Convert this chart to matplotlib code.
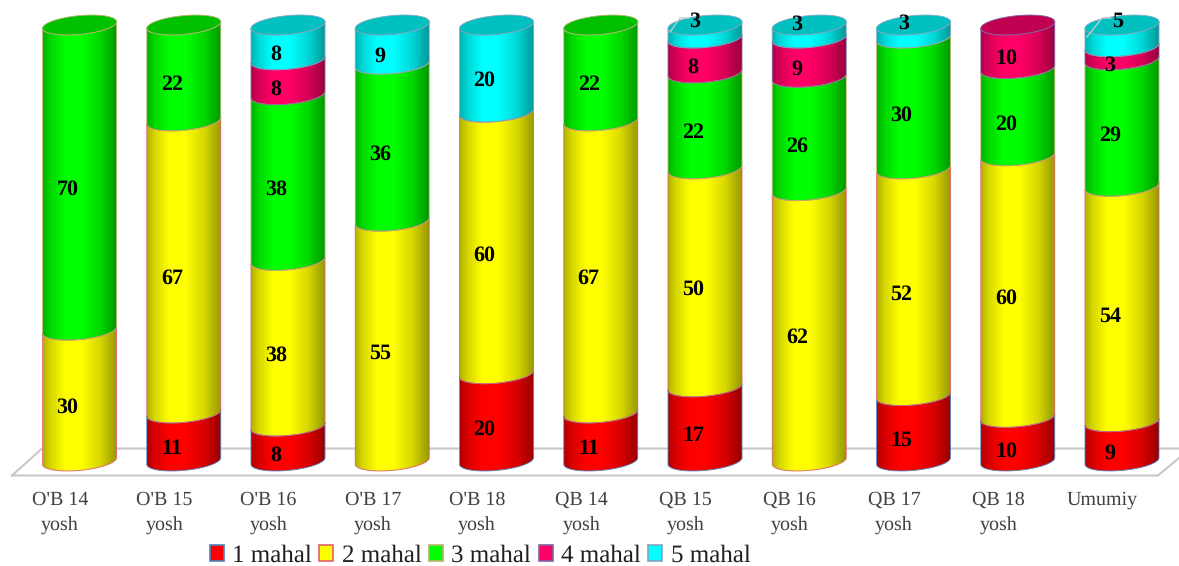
import numpy as np
import matplotlib
matplotlib.use("Agg")
import matplotlib.pyplot as plt
from matplotlib.patches import PathPatch, Patch
from matplotlib.path import Path

groups = ["O'B 14\nyosh", "O'B 15\nyosh", "O'B 16\nyosh", "O'B 17\nyosh", "O'B 18\nyosh",
          "QB 14\nyosh", "QB 15\nyosh", "QB 16\nyosh", "QB 17\nyosh", "QB 18\nyosh", "Umumiy"]
mahal_1 = [0, 11, 8, 0, 20, 11, 17, 0, 15, 10, 9]
mahal_2 = [30, 67, 38, 55, 60, 67, 50, 62, 52, 60, 54]
mahal_3 = [70, 22, 38, 36, 0, 22, 22, 26, 30, 20, 29]
mahal_4 = [0, 0, 8, 0, 0, 0, 8, 9, 0, 10, 3]
mahal_5 = [0, 0, 8, 9, 20, 0, 3, 3, 3, 0, 5]
series_names = ["1 mahal", "2 mahal", "3 mahal", "4 mahal", "5 mahal"]

colors = ["#ff0000", "#ffff00", "#00ff00", "#ff0066", "#00ffff"]
cap_colors = ["#c00000", "#c0c000", "#00c000", "#c00050", "#00c0c0"]
edge_colors = ["#4f81bd", "#e0606a", "#b5b56e", "#8064a2", "#7fa6c0"]

W, H = 1179, 566
X0, STEP = 79.5, 104.25     # pixel centre of first cylinder, spacing
Y0, PX_PER_UNIT = 461, 4.36  # pixel of value 0, pixels per percent
HALF_W = 37 / STEP
RY, TILT = 9.4 / PX_PER_UNIT, 3.3 / PX_PER_UNIT

plt.rcParams["font.family"] = ["Liberation Serif", "DejaVu Serif"]
plt.rcParams["text.hinting"] = "no_hinting"
plt.rcParams["text.hinting_factor"] = 1


def shade_image(color):
    # horizontal light falloff across the cylinder
    rgb = np.array(matplotlib.colors.to_rgb(color))
    pos = np.linspace(0, 1, 128)
    light = np.interp(pos, [0, 0.1, 0.3, 0.52, 0.78, 1], [0.7, 0.84, 1, 1, 0.84, 0.6])
    return (light[:, None] * rgb)[None, :, :]


def rim(cx, value, t):
    x = cx + HALF_W * np.cos(t)
    y = value + TILT * np.cos(t) + RY * np.sin(t)
    return x, y


def side_path(cx, low, high):
    # front arc of the lower rim, then back along the front arc of the upper rim
    t = np.linspace(np.pi, 2 * np.pi, 60)
    x1, y1 = rim(cx, low, t)
    x2, y2 = rim(cx, high, t[::-1])
    verts = np.column_stack([np.r_[x1, x2, x1[0]], np.r_[y1, y2, y1[0]]])
    return Path(verts, closed=True)


def main():
    fig = plt.figure(figsize=(W / 100, H / 100), dpi=100)
    ax = fig.add_axes([0, 0, 1, 1])
    ax.axis("off")

    def xpx(p):
        return (p - X0) / STEP

    def ypx(p):
        return (Y0 - p) / PX_PER_UNIT

    # floor of the 3D plot
    floor = [(12, 475.5), (1158, 475.5), (1179, 458)]
    ax.plot([xpx(p[0]) for p in floor], [ypx(p[1]) for p in floor], color="#c8c8c8", lw=1.5, zorder=1)
    ax.plot([xpx(12), xpx(42), xpx(1179)], [ypx(475.5), ypx(448.5), ypx(448.5)], color="#c8c8c8", lw=1.5, zorder=1)

    table = [mahal_1, mahal_2, mahal_3, mahal_4, mahal_5]
    for i in range(len(groups)):
        base = 0
        top_series = 0
        for s, vals in enumerate(table):
            v = vals[i]
            if v == 0:
                continue
            path = side_path(i, base, base + v)
            im = ax.imshow(shade_image(colors[s]), aspect="auto", zorder=2 + i * 0.01,
                           extent=[i - HALF_W, i + HALF_W, base - 4, base + v + 4])
            patch = PathPatch(path, transform=ax.transData, fc="none", ec="none")
            ax.add_patch(patch)
            im.set_clip_path(patch)
            ax.add_patch(PathPatch(path, fc="none", ec=edge_colors[s], lw=0.6, zorder=2.5 + i * 0.01))
            base += v
            top_series = s
        # top cap
        t = np.linspace(0, 2 * np.pi, 120)
        cx, cy = rim(i, base, t)
        ax.fill(cx, cy, fc=cap_colors[top_series], ec=edge_colors[top_series], lw=0.6, zorder=2.6 + i * 0.01)

    # data labels, a few top ones are pulled up on leader lines
    moved = {(6, 4): (695, 21), (7, 4): (797, 24), (8, 4): (904, 23), (10, 4): (1118, 21)}
    for i in range(len(groups)):
        base = 0
        for s, vals in enumerate(table):
            v = vals[i]
            if v == 0:
                continue
            x = i - 12 / STEP
            y = base + v / 2 - 12 / PX_PER_UNIT
            if (i, s) in moved:
                x, y = xpx(moved[(i, s)][0]), ypx(moved[(i, s)][1])
            ax.text(x, y, str(v), ha="center", va="center", fontsize=15.5, fontweight="bold",
                    color="black", zorder=5)
            base += v

    for pts in ([(670, 32), (680, 18), (689, 18)], [(1087, 37), (1102, 18), (1111, 18)]):
        ax.plot([xpx(p[0]) for p in pts], [ypx(p[1]) for p in pts], color="#c8c8c8", lw=1, zorder=4)

    for i, label in enumerate(groups):
        ax.text(i - 19.5 / STEP, ypx(491), label, ha="center", va="top", fontsize=14.4,
                color="#404040", linespacing=1.55, zorder=5)

    ax.set_xlim(xpx(0), xpx(W))
    ax.set_ylim(ypx(H), ypx(0))

    handles = [Patch(fc=c, ec=e, lw=1.2, label=n) for c, e, n in zip(colors, edge_colors, series_names)]
    ax.legend(handles=handles, ncol=5, loc="center", bbox_to_anchor=(480 / W, 1 - 556 / H), frameon=False,
              fontsize=18.2, handlelength=0.56, handleheight=0.58, handletextpad=0.32, columnspacing=0.3,
              borderpad=0, labelcolor="#202020")

    fig.savefig("out.png", dpi=100, facecolor="white")


if __name__ == "__main__":
    main()
